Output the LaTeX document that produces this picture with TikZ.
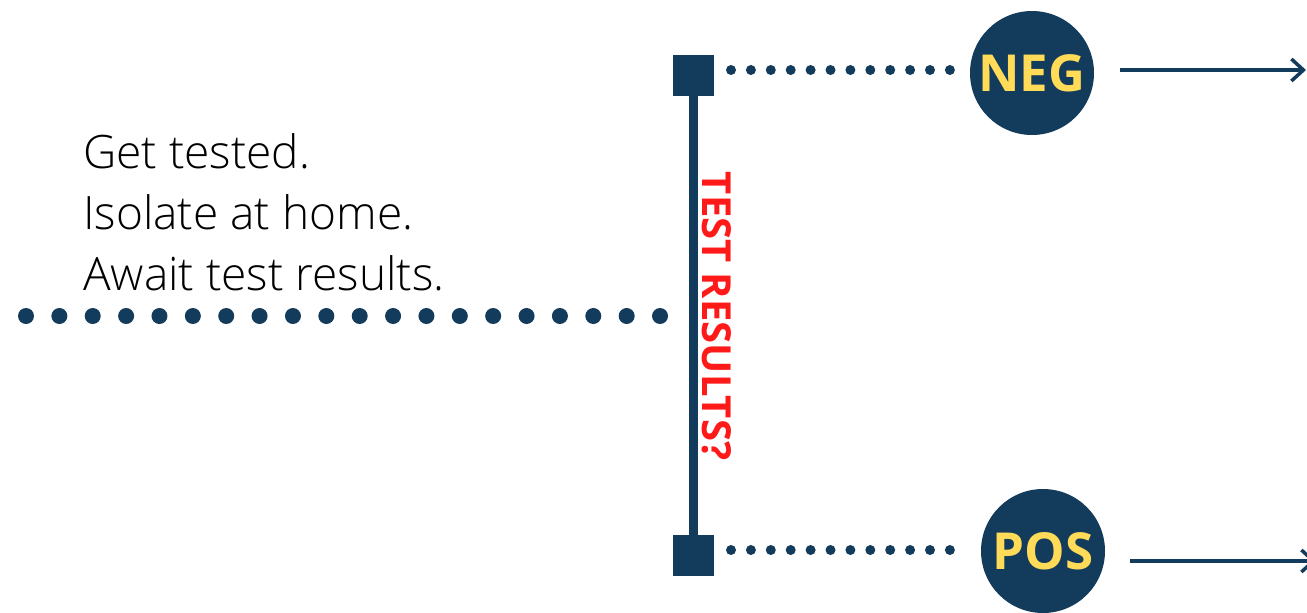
\documentclass[tikz,border=0pt]{standalone}
\usepackage{fontspec}
\setmainfont{Open Sans}
\newfontfamily\lightfont{Open Sans Light}
\usetikzlibrary{arrows.meta, positioning}
\definecolor{cnavy}{HTML}{133B5C}
\definecolor{cyellow}{HTML}{FFDB58}
\definecolor{cred}{HTML}{FF1A1A}
\tikzset{
  endbox/.style={fill=cnavy, minimum size=41pt, inner sep=0pt},
  result/.style={circle, fill=cnavy, text=cyellow, minimum size=124pt, inner sep=0pt, font=\fontsize{51}{51}\selectfont\bfseries},
  bigdots/.style={draw=cnavy, line width=16pt, line cap=round, dash pattern=on 0pt off 33.37pt},
  smalldots/.style={draw=cnavy, line width=10pt, line cap=round, dash pattern=on 0pt off 19.9pt},
  arrow/.style={-{Straight Barb[length=12pt, width=22pt]}, draw=cnavy, line width=3.5pt},
  bar/.style={draw=cnavy, line width=9pt},
  steps/.style={align=left, inner sep=0pt, font=\fontsize{46}{61}\lightfont},
  sidelabel/.style={rotate=-90, inner sep=0pt, text=cred, font=\fontsize{40}{40}\selectfont\bfseries},
}

\begin{document}
\begin{tikzpicture}[x=1pt, y=-1pt]
  \useasboundingbox (0,0) rectangle (1307,613);
  \node[steps, anchor=base west] (steps) at (83,290) {Get tested.\\Isolate at home.\\Await test results.};
  \node[endbox] (sq1) at (693.5,75) {};
  \node[endbox] (sq2) at (693.5,555.5) {};
  \draw[bar] (sq1) -- (sq2);
  \node[sidelabel] (tr) at (717,316) {TEST RESULTS?};
  \node[result] (neg) at (1032,73) {NEG};
  \node[result] (pos) at (1043,551) {POS};
  \coordinate (in) at (26,316);
  \coordinate (join) at (661,316);
  \draw[bigdots] (in) -- (join);
  \coordinate (n1) at (731,70);
  \coordinate (n2) at (951,70);
  \draw[smalldots] (n1) -- (n2);
  \coordinate (p1) at (731,550);
  \coordinate (p2) at (951,550);
  \draw[smalldots] (p1) -- (p2);
  \coordinate (negout) at (1306,70);
  \coordinate (posout) at (1316,561);
  \draw[arrow] (1120,70) -- (negout);
  \draw[arrow] (1130,561) -- (posout);
\end{tikzpicture}
\end{document}
